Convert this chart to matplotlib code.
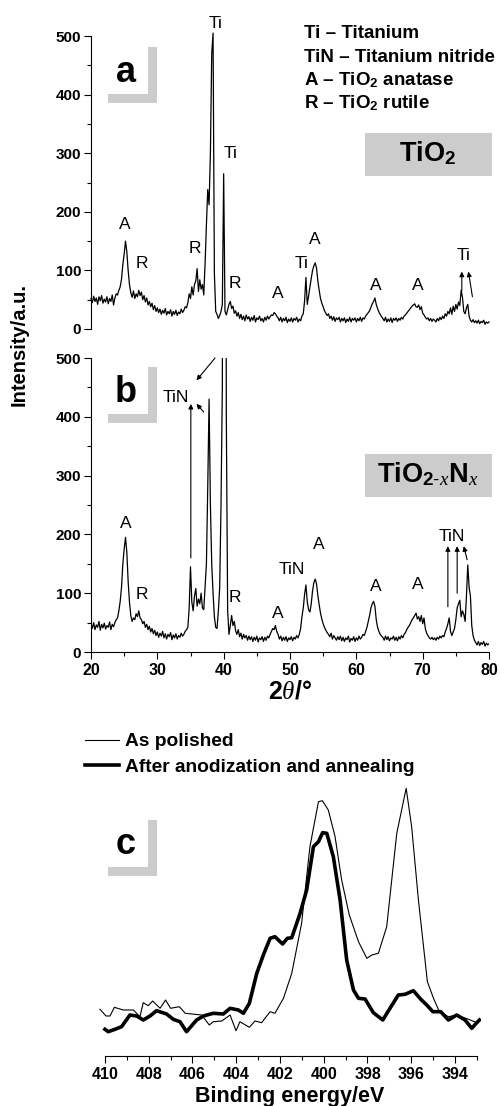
import numpy as np
import matplotlib
matplotlib.use("Agg")
import matplotlib.pyplot as plt
from matplotlib.patches import Rectangle

plt.rcParams['font.family'] = ['Liberation Sans', 'DejaVu Sans']
plt.rcParams['mathtext.fontset'] = 'custom'
plt.rcParams['mathtext.rm'] = 'Liberation Sans'
plt.rcParams['mathtext.bf'] = 'Liberation Sans:bold'
plt.rcParams['mathtext.it'] = 'Liberation Serif:italic'
plt.rcParams['mathtext.sf'] = 'Liberation Sans'

# ---------------- DATA ----------------
# XRD two-theta grid (instrument step 0.2 deg)
two_theta = np.round(np.arange(20.0, 80.0001, 0.2), 1)

# (a) TiO2 intensity
xrd_tio2 = [
    52, 45, 56, 47, 53, 42, 55, 48, 57, 44,
    51, 46, 55, 43, 52, 47, 58, 41, 53, 60,
    58, 66, 72, 85, 110, 128, 150, 132, 100, 76,
    62, 54, 65, 52, 60, 55, 66, 57, 63, 50,
    57, 46, 53, 41, 47, 38, 44, 33, 40, 30,
    36, 28, 34, 25, 32, 27, 35, 24, 30, 26,
    33, 22, 30, 25, 32, 23, 29, 26, 34, 28,
    32, 38, 36, 45, 60, 52, 72, 58, 76, 82,
    103, 64, 84, 68, 76, 58, 112, 178, 238, 212,
    300, 470, 505, 95, 30, 25, 18, 23, 30, 42,
    265, 30, 24, 33, 42, 47, 35, 39, 27, 31,
    22, 28, 18, 25, 16, 22, 14, 24, 17, 21,
    13, 20, 15, 23, 12, 19, 16, 22, 14, 18,
    12, 20, 15, 22, 17, 21, 24, 23, 28, 26,
    22, 19, 14, 20, 12, 18, 14, 20, 11, 17,
    13, 19, 12, 18, 15, 20, 12, 17, 14, 22,
    26, 48, 88, 42, 56, 72, 86, 100, 108, 113,
    104, 82, 66, 52, 44, 38, 31, 27, 23, 26,
    18, 22, 15, 21, 13, 19, 16, 20, 12, 18,
    14, 19, 11, 17, 13, 20, 12, 18, 15, 19,
    12, 18, 14, 20, 13, 19, 17, 22, 25, 28,
    31, 37, 43, 47, 53, 42, 35, 29, 25, 21,
    18, 14, 20, 12, 17, 13, 19, 11, 18, 15,
    19, 13, 18, 15, 20, 17, 22, 24, 27, 30,
    33, 36, 39, 41, 43, 38, 37, 41, 33, 38,
    27, 24, 20, 17, 19, 14, 18, 13, 17, 15,
    12, 18, 14, 20, 16, 22, 18, 26, 22, 30,
    26, 36, 25, 39, 30, 42, 34, 46, 40, 66,
    54, 30, 26, 36, 42, 22, 15, 12, 16, 11,
    14, 10, 15, 9, 13, 11, 15, 8, 12, 10,
    12,
]

# (b) TiO2-xNx intensity
xrd_tion = [
    48, 40, 50, 38, 46, 42, 52, 37, 47, 41,
    49, 39, 45, 42, 51, 38, 47, 43, 50, 55,
    58, 70, 86, 110, 150, 175, 195, 170, 120, 85,
    62, 52, 58, 55, 65, 60, 70, 58, 55, 48,
    52, 42, 47, 38, 44, 34, 40, 31, 37, 28,
    34, 25, 32, 27, 35, 24, 31, 22, 30, 26,
    33, 21, 29, 24, 31, 22, 28, 25, 32, 27,
    30, 35, 38, 42, 75, 145, 85, 70, 95, 108,
    78, 90, 82, 100, 75, 72, 110, 150, 280, 430,
    250, 150, 100, 60, 42, 40, 70, 110, 250, 450,
    1800, 1800, 400, 70, 30, 45, 62, 45, 52, 36,
    30, 38, 26, 32, 22, 30, 24, 28, 20, 27,
    21, 26, 18, 25, 20, 27, 17, 24, 21, 26,
    18, 25, 20, 27, 24, 30, 35, 40, 38, 45,
    35, 30, 22, 27, 19, 25, 20, 26, 18, 24,
    21, 26, 19, 25, 22, 28, 24, 30, 40, 60,
    75, 98, 114, 86, 72, 68, 82, 104, 118, 124,
    116, 96, 80, 66, 56, 48, 42, 37, 33, 30,
    26, 32, 22, 28, 24, 20, 26, 21, 27, 19,
    25, 18, 24, 21, 27, 17, 23, 20, 26, 18,
    24, 20, 27, 22, 25, 30, 28, 35, 42, 52,
    62, 75, 82, 86, 78, 55, 42, 35, 30, 27,
    25, 20, 27, 21, 26, 19, 24, 22, 27, 20,
    25, 19, 26, 22, 28, 24, 30, 33, 38, 42,
    45, 50, 55, 58, 62, 66, 56, 60, 52, 62,
    48, 58, 40, 32, 28, 24, 22, 25, 21, 24,
    20, 25, 22, 27, 24, 28, 26, 34, 40, 48,
    58, 35, 28, 34, 40, 55, 75, 82, 88, 60,
    70, 64, 52, 95, 148, 110, 95, 45, 28, 20,
    16, 12, 18, 11, 16, 13, 18, 10, 15, 12,
    14,
]

# peak labels (a)
labels_a_text = ['Ti', 'Ti', 'A', 'R', 'R', 'R', 'A', 'Ti', 'A', 'A', 'A', 'Ti']
labels_a_x = [38.8, 41.0, 25.1, 27.7, 35.6, 41.7, 48.1, 51.8, 53.8, 63.0, 69.2, 76.1]
labels_a_y = [522, 300, 179, 112, 138, 77, 61, 112, 152, 75, 75, 126]
# arrows (a): tail x, tail y, head x, head y
arrows_a = [(75.9, 65, 75.9, 98), (77.5, 55, 76.9, 98)]

# peak labels (b)
labels_b_text = ['A', 'R', 'TiN', 'R', 'A', 'TiN', 'A', 'A', 'A', 'TiN']
labels_b_x = [25.3, 27.7, 32.8, 41.7, 48.1, 50.3, 54.3, 63.0, 69.2, 74.4]
labels_b_y = [218, 97, 432, 92, 66, 141, 182, 112, 114, 196]
arrows_b = [(35.05, 160, 35.05, 422), (38.7, 500, 35.9, 462), (37.0, 408, 35.9, 422),
            (73.8, 77, 73.8, 180), (75.2, 100, 75.2, 180), (76.7, 157, 76.2, 180)]

legend_lines = ['Ti – Titanium', 'TiN – Titanium nitride',
                r'A – TiO$_\mathbf{2}$ anatase', r'R – TiO$_\mathbf{2}$ rutile']

# (c) XPS N 1s
be_polished = [410.23, 409.95, 409.77, 409.57, 409.16, 408.70, 408.40, 408.25, 408.02,
               407.82, 407.48, 407.23, 407.00, 406.60, 406.33, 405.58, 405.23, 405.05,
               404.66, 404.28, 404.01, 403.83, 403.40, 403.14, 402.84, 402.45, 402.23,
               401.84, 401.46, 401.01, 400.63, 400.24, 400.06, 399.79, 399.48, 399.18,
               398.83, 398.41, 398.03, 397.80, 397.50, 397.12, 396.66, 396.23, 395.98,
               395.67, 395.26, 394.98, 394.71, 394.30, 393.92, 393.38, 393.00]
int_polished = [46.7, 40, 40, 48.7, 46, 46, 39.3, 53.3, 50.3,
                55, 47.7, 56, 47.7, 49.3, 42.7, 41, 31, 34.3,
                35, 41, 25.3, 34.3, 28.7, 35, 33.3, 44.3, 42.7,
                57.7, 82.7, 132.7, 209.3, 254.3, 255.3, 246, 219.3, 176,
                141, 114.3, 97.7, 101, 102.7, 129.3, 222.7, 267.7, 229.3,
                156, 74.3, 57.7, 44.3, 39.3, 41, 36.7, 33.3]

be_annealed = [410.00, 409.85, 409.54, 409.24, 408.86, 408.55, 408.25, 407.94, 407.64,
               407.18, 406.88, 406.57, 406.27, 405.81, 405.50, 405.05, 404.59, 404.28,
               403.90, 403.67, 403.40, 403.06, 402.76, 402.45, 402.23, 401.88, 401.66,
               401.46, 401.08, 400.78, 400.47, 400.24, 400.05, 399.86, 399.56, 399.25,
               398.95, 398.64, 398.41, 398.11, 397.73, 397.30, 396.97, 396.59, 396.28,
               395.90, 395.56, 395.29, 395.01, 394.65, 394.30, 393.92, 393.54, 393.23,
               393.03, 392.88]
int_annealed = [26.7, 24.3, 26.7, 29.3, 41, 40, 36, 40, 45.3,
                42, 36.7, 34.3, 24.3, 36, 40, 42.7, 42, 47.7,
                46, 42.7, 52.7, 82.7, 101, 117.7, 119.3, 112, 117.7,
                118.3, 142.7, 166, 209.3, 214.3, 223.3, 222.7, 199.3, 156,
                96, 66, 57.7, 57, 43.3, 36, 47.7, 61, 61.7,
                65.3, 56.7, 51, 44.3, 44.3, 36, 41, 36, 27.7,
                32.7, 36]
xps_labels = ['As polished', 'After anodization and annealing']

# ---------------- FIGURE ----------------
W, H = 500, 1106
fig = plt.figure(figsize=(W / 100, H / 100), dpi=100)


def fx(px):
    return px / W


def fy(py):
    return 1 - py / H


def box(ax_rect):
    l, t, r, b = ax_rect
    return [fx(l), fy(b), fx(r) - fx(l), fy(t) - fy(b)]


ax_a = fig.add_axes(box((91, 36, 489, 329)))
ax_b = fig.add_axes(box((91, 358, 489, 652)))
ax_c = fig.add_axes(box((98.4, 756, 481.2, 1056)))

for ax in (ax_a, ax_b):
    ax.plot(two_theta, xrd_tio2 if ax is ax_a else xrd_tion, color='black', lw=0.9)
    ax.set_xlim(20, 80)
    ax.set_ylim(0, 500)
    ax.set_yticks([0, 100, 200, 300, 400, 500])
    ax.set_yticks(np.arange(50, 500, 100), minor=True)
    for s in ('top', 'right'):
        ax.spines[s].set_visible(False)
    ax.spines['left'].set_linewidth(0.8)
    ax.tick_params(axis='y', which='major', direction='out', length=5, width=0.8, pad=2)
    ax.tick_params(axis='y', which='minor', direction='out', length=3, width=0.8)
    for lab in ax.get_yticklabels():
        lab.set_fontweight('bold')
        lab.set_fontsize(11)

ax_a.spines['bottom'].set_visible(False)
ax_a.set_xticks([])
ax_a.lines[0].set_clip_on(False)

ax_b.spines['bottom'].set_linewidth(0.8)
ax_b.set_xticks(np.arange(20, 81, 10))
ax_b.set_xticks(np.arange(25, 80, 10), minor=True)
ax_b.tick_params(axis='x', which='major', direction='out', length=5, width=0.8, pad=3)
ax_b.tick_params(axis='x', which='minor', direction='out', length=3, width=0.8)
for lab in ax_b.get_xticklabels():
    lab.set_fontweight('bold')
    lab.set_fontsize(11.5)
ax_b.set_xlabel(r'$\mathbf{2}\mathit{\theta}$/°', fontsize=18, fontweight='bold', labelpad=1)

for t, x, y in zip(labels_a_text, labels_a_x, labels_a_y):
    ax_a.text(x, y, t, ha='center', va='center', fontsize=12.5, clip_on=False)
for t, x, y in zip(labels_b_text, labels_b_x, labels_b_y):
    ax_b.text(x, y, t, ha='center', va='center', fontsize=12.5, clip_on=False)

arrow_kw = dict(arrowstyle='-|>', color='black', lw=0.8, mutation_scale=7, shrinkA=0, shrinkB=0)
for (x0, y0, x1, y1) in arrows_a:
    ax_a.annotate('', xy=(x1, y1), xytext=(x0, y0), arrowprops=arrow_kw, annotation_clip=False)
for (x0, y0, x1, y1) in arrows_b:
    ax_b.annotate('', xy=(x1, y1), xytext=(x0, y0), arrowprops=arrow_kw, annotation_clip=False)

# composition legend (a)
for i, line in enumerate(legend_lines):
    fig.text(fx(304), fy(34 + 23 * i), line, ha='left', va='center', fontsize=13.5, fontweight='bold')

gray = '#cccccc'
# phase boxes
for top, txt in ((133, r'$\mathbf{TiO}_{\mathbf{2}}$'),
                 (454, r'$\mathbf{TiO}_{\mathbf{2\text{-}}\mathit{x}}\mathbf{N}_{\mathit{x}}$')):
    fig.patches.append(Rectangle((fx(365), fy(top + 43)), fx(127), 43 / H, transform=fig.transFigure,
                                 facecolor=gray, edgecolor='none'))
    fig.text(fx(428), fy(top + 20), txt, ha='center', va='center', fontsize=19.5)

# panel letter corners
for top, letter in ((47, 'a'), (367, 'b'), (820, 'c')):
    fig.patches.append(Rectangle((fx(148), fy(top + 56)), fx(9), 56 / H, transform=fig.transFigure,
                                 facecolor=gray, edgecolor='none'))
    fig.patches.append(Rectangle((fx(108), fy(top + 56)), fx(49), 9 / H, transform=fig.transFigure,
                                 facecolor=gray, edgecolor='none'))
    fig.text(fx(126), fy(top + 25), letter, ha='center', va='center', fontsize=26, fontweight='bold')

fig.text(fx(19), fy(345), 'Intensity/a.u.', rotation=90, ha='center', va='center',
         fontsize=14.5, fontweight='bold')

# (c) XPS
l1, = ax_c.plot(be_polished, int_polished, color='black', lw=0.8, label=xps_labels[0])
l2, = ax_c.plot(be_annealed, int_annealed, color='black', lw=2.6, label=xps_labels[1])
ax_c.set_xlim(410.3, 392.8)
ax_c.set_ylim(0, 300)
for s in ('top', 'right', 'left'):
    ax_c.spines[s].set_visible(False)
ax_c.spines['bottom'].set_bounds(410, 393)
ax_c.spines['bottom'].set_linewidth(0.8)
ax_c.set_yticks([])
ax_c.set_xticks(np.arange(410, 393, -2))
ax_c.set_xticks(np.arange(409, 392, -2), minor=True)
ax_c.tick_params(axis='x', which='major', direction='out', length=5, width=0.8, pad=3)
ax_c.tick_params(axis='x', which='minor', direction='out', length=3, width=0.8)
for lab in ax_c.get_xticklabels():
    lab.set_fontweight('bold')
    lab.set_fontsize(11.5)
ax_c.set_xlabel('Binding energy/eV', fontsize=15.5, fontweight='bold', labelpad=3)

fig.legend(handles=[l1, l2], loc='upper left', bbox_to_anchor=(fx(85), fy(733)),
           frameon=False, prop=dict(size=13.8, weight='bold'), handlelength=1.75,
           handletextpad=0.35, labelspacing=0.42, borderpad=0, borderaxespad=0)

fig.savefig('out.png', dpi=100)
